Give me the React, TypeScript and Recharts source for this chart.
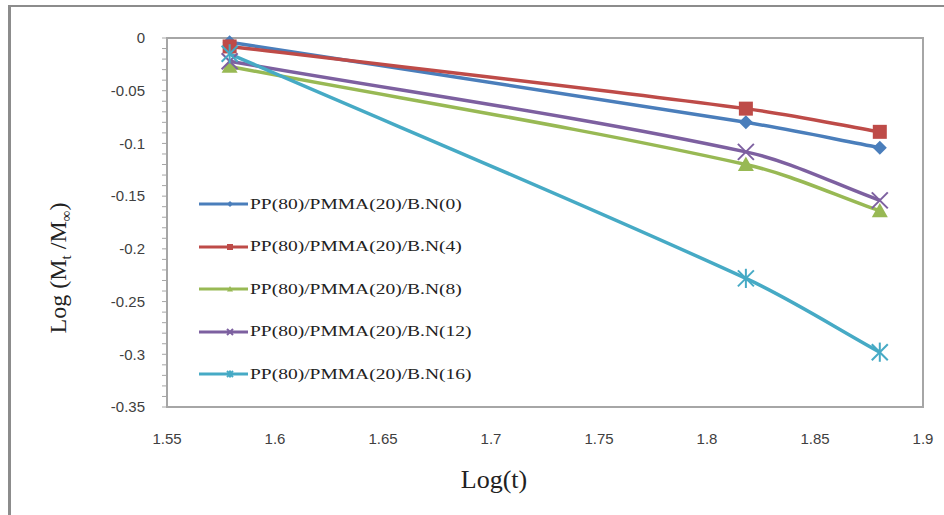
import { LineChart, Line, XAxis, YAxis, ReferenceArea } from "recharts";

const logT = [1.579, 1.818, 1.88];
const bn0 = [-0.004, -0.08, -0.104];
const bn4 = [-0.008, -0.067, -0.089];
const bn8 = [-0.027, -0.12, -0.164];
const bn12 = [-0.022, -0.108, -0.154];
const bn16 = [-0.015, -0.228, -0.298];

const xTicks = [1.55, 1.6, 1.65, 1.7, 1.75, 1.8, 1.85, 1.9];
const yMajor = [0, -0.05, -0.1, -0.15, -0.2, -0.25, -0.3, -0.35];
const yTicks = [
  0, -0.01, -0.02, -0.03, -0.04, -0.05, -0.06, -0.07, -0.08, -0.09,
  -0.1, -0.11, -0.12, -0.13, -0.14, -0.15, -0.16, -0.17, -0.18, -0.19,
  -0.2, -0.21, -0.22, -0.23, -0.24, -0.25, -0.26, -0.27, -0.28, -0.29,
  -0.3, -0.31, -0.32, -0.33, -0.34, -0.35,
];

const data = logT.map((x, i) => ({
  x,
  bn0: bn0[i],
  bn4: bn4[i],
  bn8: bn8[i],
  bn12: bn12[i],
  bn16: bn16[i],
}));

const serif = '"Liberation Serif", "Times New Roman", serif';
const sans = '"Liberation Sans", Arial, sans-serif';

// gentle smoothing: Hermite segments, tangent from neighbouring points
function smoothCurve(context: any) {
  let pts: number[][] = [];
  return {
    areaStart() {},
    areaEnd() {},
    lineStart() {
      pts = [];
    },
    point(x: number, y: number) {
      pts.push([+x, +y]);
    },
    lineEnd() {
      const n = pts.length;
      if (!n) return;
      const slope = (a: number[], b: number[]) => (b[1] - a[1]) / (b[0] - a[0]);
      const m = pts.map((p, i) => {
        if (n === 1) return 0;
        if (i === 0) return slope(pts[0], pts[1]);
        if (i === n - 1) return slope(pts[n - 2], pts[n - 1]);
        return slope(pts[i - 1], pts[i + 1]);
      });
      context.moveTo(pts[0][0], pts[0][1]);
      for (let i = 0; i < n - 1; i++) {
        const [x0, y0] = pts[i];
        const [x1, y1] = pts[i + 1];
        const d = (x1 - x0) / 3;
        context.bezierCurveTo(x0 + d, y0 + m[i] * d, x1 - d, y1 - m[i + 1] * d, x1, y1);
      }
    },
  };
}

type Shape = "diamond" | "square" | "triangle" | "x" | "star";

function marker(shape: Shape, color: string, cx: number, cy: number, s: number) {
  switch (shape) {
    case "diamond":
      return <path d={`M${cx},${cy - s}L${cx + s},${cy}L${cx},${cy + s}L${cx - s},${cy}Z`} fill={color} />;
    case "square":
      return <rect x={cx - s} y={cy - s} width={2 * s} height={2 * s} fill={color} />;
    case "triangle":
      return <path d={`M${cx},${cy - s}L${cx + s},${cy + s * 0.8}L${cx - s},${cy + s * 0.8}Z`} fill={color} />;
    case "x":
      return (
        <g stroke={color} strokeWidth={2}>
          <line x1={cx - s} y1={cy - s} x2={cx + s} y2={cy + s} />
          <line x1={cx - s} y1={cy + s} x2={cx + s} y2={cy - s} />
        </g>
      );
    default:
      return (
        <g stroke={color} strokeWidth={2}>
          <line x1={cx - s} y1={cy - s} x2={cx + s} y2={cy + s} />
          <line x1={cx - s} y1={cy + s} x2={cx + s} y2={cy - s} />
          <line x1={cx} y1={cy - s * 1.2} x2={cx} y2={cy + s * 1.2} />
        </g>
      );
  }
}

const series: { key: string; name: string; color: string; shape: Shape; size: number }[] = [
  { key: "bn0", name: "PP(80)/PMMA(20)/B.N(0)", color: "#4A7EBB", shape: "diamond", size: 7 },
  { key: "bn4", name: "PP(80)/PMMA(20)/B.N(4)", color: "#BE4B48", shape: "square", size: 7 },
  { key: "bn8", name: "PP(80)/PMMA(20)/B.N(8)", color: "#98B954", shape: "triangle", size: 8 },
  { key: "bn12", name: "PP(80)/PMMA(20)/B.N(12)", color: "#7D60A0", shape: "x", size: 8 },
  { key: "bn16", name: "PP(80)/PMMA(20)/B.N(16)", color: "#46AAC5", shape: "star", size: 8 },
];

function YTick(props: any) {
  const { x, y, payload } = props;
  if (!yMajor.some((v) => Math.abs(v - payload.value) < 1e-9)) return <g />;
  return (
    <text x={x} y={y} dy="0.35em" textAnchor="end" fontFamily={sans} fontSize={15} fill="#404040">
      {payload.value}
    </text>
  );
}

function LegendBox() {
  return (
    <div
      style={{
        position: "absolute",
        left: 198,
        top: 183,
        fontFamily: serif,
        fontSize: 15,
        color: "#222",
      }}
    >
      {series.map((s) => (
        <div key={s.key} style={{ display: "flex", alignItems: "center", height: 42.5 }}>
          <svg width={52} height={14}>
            <line x1={1} y1={7} x2={50} y2={7} stroke={s.color} strokeWidth={3} />
            {marker(s.shape, s.color, 32, 7, 3)}
          </svg>
          <span style={{ display: "inline-block", transform: "scaleX(1.3)", transformOrigin: "left center" }}>
            {s.name}
          </span>
        </div>
      ))}
    </div>
  );
}

export default function App() {
  return (
    <div style={{ position: "absolute", left: 0, top: 0, width: 944, height: 515, background: "#fff" }}>
      <div
        style={{
          position: "absolute",
          left: 8,
          top: 5,
          width: 936,
          height: 510,
          borderTop: "2px solid #8c8c8c",
          borderLeft: "3px solid #8c8c8c",
          boxSizing: "border-box",
        }}
      />
      <LineChart
        width={944}
        height={515}
        data={data}
        margin={{ top: 38, right: 21, bottom: 68, left: 107 }}
        style={{ position: "absolute", left: 0, top: 0 }}
      >
        <ReferenceArea
          x1={1.55}
          x2={1.9}
          y1={-0.35}
          y2={0}
          fill="none"
          stroke="#a6a6a6"
          strokeWidth={2}
          ifOverflow="visible"
        />
        <XAxis
          type="number"
          dataKey="x"
          domain={[1.55, 1.9]}
          ticks={xTicks}
          height={40}
          axisLine={false}
          tickLine={false}
          tickMargin={20}
          tick={{ fontFamily: sans, fontSize: 15, fill: "#404040" }}
          label={{
            content: () => (
              <text x={494} y={488} textAnchor="middle" fontFamily={serif} fontSize={26} fill="#222">
                Log(t)
              </text>
            ),
          }}
        />
        <YAxis
          type="number"
          domain={[-0.35, 0]}
          ticks={yTicks}
          interval={0}
          width={60}
          axisLine={{ stroke: "#a6a6a6", strokeWidth: 2 }}
          tickLine={{ stroke: "#a6a6a6" }}
          tickSize={5}
          tickMargin={17}
          tick={<YTick />}
          label={{
            content: () => (
              <text
                x={66}
                y={268}
                transform="rotate(-90 66 268)"
                textAnchor="middle"
                fontFamily={serif}
                fontSize={24}
                fill="#222"
              >
                Log (M<tspan fontSize={15} dy={5}>t</tspan>
                <tspan dy={-5}> /M</tspan>
                <tspan fontSize={15} dy={5}>∞</tspan>
                <tspan dy={-5}>)</tspan>
              </text>
            ),
          }}
        />
        {series.map((s) => (
          <Line
            key={s.key}
            type={smoothCurve as any}
            dataKey={s.key}
            name={s.name}
            stroke={s.color}
            strokeWidth={3.5}
            isAnimationActive={false}
            dot={(p: any) => <g key={`${s.key}-${p.index}`}>{marker(s.shape, s.color, p.cx, p.cy, s.size)}</g>}
            activeDot={false}
          />
        ))}
      </LineChart>
      <LegendBox />
    </div>
  );
}
